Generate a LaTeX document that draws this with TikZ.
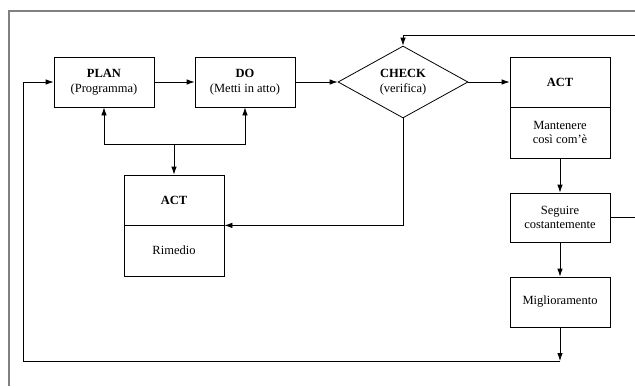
\documentclass[tikz,border=0pt]{standalone}
\usepackage{fontspec}
\setmainfont{Liberation Serif}
\usetikzlibrary{arrows.meta,shapes.geometric}
\begin{document}
\begin{tikzpicture}[x=1pt,y=-1pt,
  every node/.style={font=\fontsize{12.5}{14.5}\selectfont},
  box/.style={draw,line width=0.8pt,minimum width=100pt,inner sep=0pt,align=center},
  conn/.style={line width=0.8pt,-{Latex[length=8pt,width=5.5pt]}},
  plain/.style={line width=0.8pt},
  frame/.style={draw=black!50,line width=1.4pt}]
\useasboundingbox (0,0) rectangle (635,386);
% frame
\draw[frame] (9,386) -- (9,11) -- (635,11);
% nodes
\node[box,minimum height=50pt] (plan) at (104,82) {\textbf{PLAN}\\(Programma)};
\node[box,minimum height=50pt] (do) at (245,82) {\textbf{DO}\\(Metti in atto)};
\node[draw,line width=0.8pt,shape=diamond,minimum width=130pt,minimum height=50pt,inner sep=0pt,align=center] (check) at (403,82) {\textbf{CHECK}\\(verifica)};
\node[box,minimum height=50pt] (actR) at (560,82) {\textbf{ACT}};
\node[box,minimum height=51pt] (keep) at (560,132.5) {Mantenere\\così com’è};
\node[box,minimum height=49pt] (follow) at (560,217.5) {Seguire\\costantemente};
\node[box,minimum height=50pt] (improve) at (560,302) {Miglioramento};
\node[box,minimum height=50pt] (actL) at (174,200) {\textbf{ACT}};
\node[box,minimum height=51pt] (remedy) at (174,250.5) {Rimedio};
% coordinates
\coordinate (j) at (174,144);
\coordinate (b1) at (560,361);
\coordinate (b2) at (23,361);
\coordinate (rt) at (645,35);
% connectors
\draw[conn] (plan) -- (do);
\draw[conn] (do) -- (check.west);
\draw[conn] (check.east) -- (actR.west);
\draw[conn] (keep.south) -- (follow.north);
\draw[conn] (follow.south) -- (improve.north);
\draw[conn] (improve.south) -- (b1);
\draw[conn] (b1) -- (b2) |- (plan.west);
\draw[conn] (follow.east) -| (rt) -| (check.north);
\draw[conn] (check.south) |- (actL.south east);
\draw[conn] (j) -- (actL.north);
\draw[conn] (j) -| (plan.south);
\draw[conn] (j) -| (do.south);
\end{tikzpicture}
\end{document}
